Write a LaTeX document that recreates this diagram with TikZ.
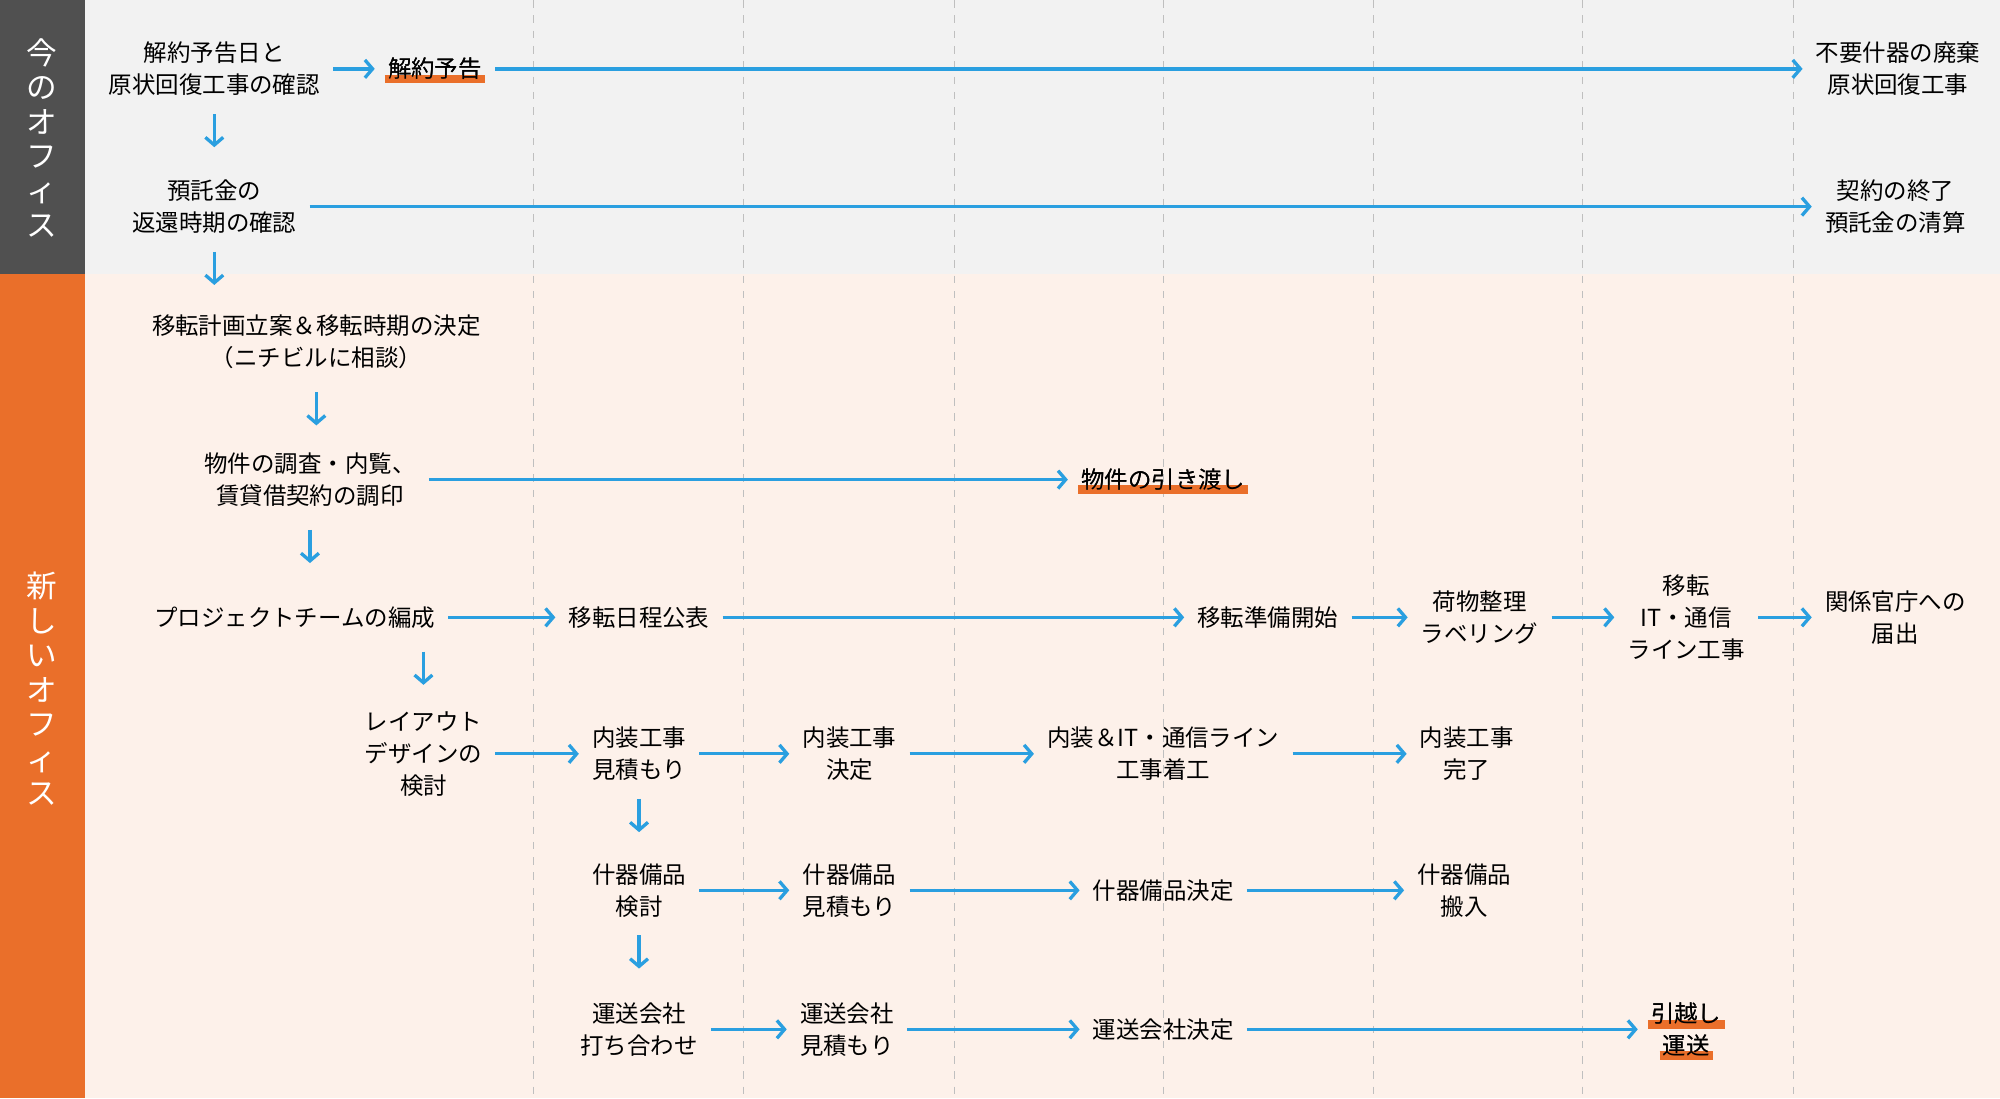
\documentclass[tikz,border=0pt]{standalone}
\usepackage{fontspec}
\setmainfont{Noto Sans CJK JP}
\usetikzlibrary{arrows.meta}
\definecolor{flowblue}{HTML}{2A9FE0}
\definecolor{bandorange}{HTML}{EA6F2A}
\definecolor{bandgray}{HTML}{505050}
\tikzset{
  step box/.style={align=center, inner sep=2pt, font=\fontsize{9.2}{12.5}\selectfont},
  arr/.style={draw=flowblue, line width=1.3pt, -{Straight Barb[length=3pt,width=7pt]}},
  uline/.style={draw=bandorange, line width=3.5pt},
  side/.style={align=center, text=white, font=\fontsize{12}{13.5}\selectfont}
}
\begin{document}
\begin{tikzpicture}[x=0.5pt, y=-0.5pt]
  % background bands
  \fill[black!5] (0,0) rectangle (1568,215);
  \fill[bandorange!10] (0,215) rectangle (1568,861);
  \fill[bandgray] (0,0) rectangle (67,215);
  \fill[bandorange] (0,215) rectangle (67,861);
  \useasboundingbox (0,0) rectangle (1568,861);
  \foreach \x in {418,583,748,912,1077,1241,1406}
    \draw[black!25, dashed] (\x,0) -- (\x,861);
  \node[side] (now) at (33,108) {今\\の\\オ\\フ\\ィ\\ス};
  \node[side] (new) at (33,540) {新\\し\\い\\オ\\フ\\ィ\\ス};

  % current office
  \node[step box] (a1) at (168,54) {解約予告日と\\原状回復工事の確認};
  \node[step box] (a2) at (341,54) {解約予告};
  \node[step box] (a3) at (1488,54) {不要什器の廃棄\\原状回復工事};
  \node[step box] (b1) at (168,162) {預託金の\\返還時期の確認};
  \node[step box] (b2) at (1486,162) {契約の終了\\預託金の清算};

  % new office
  \node[step box] (c1) at (248,268) {移転計画立案＆移転時期の決定\\（ニチビルに相談）};
  \node[step box] (d1) at (243,376) {物件の調査・内覧、\\賃貸借契約の調印};
  \node[step box] (d2) at (912,376) {物件の引き渡し};
  \node[step box] (e1) at (231,484) {プロジェクトチームの編成};
  \node[step box] (e2) at (501,484) {移転日程公表};
  \node[step box] (e3) at (994,484) {移転準備開始};
  \node[step box] (e4) at (1160,484) {荷物整理\\ラベリング};
  \node[step box] (e5) at (1322,484) {移転\\IT・通信\\ライン工事};
  \node[step box] (e6) at (1486,484) {関係官庁への\\届出};
  \node[step box] (f1) at (332,591) {レイアウト\\デザインの\\検討};
  \node[step box] (f2) at (501,591) {内装工事\\見積もり};
  \node[step box] (f3) at (666,591) {内装工事\\決定};
  \node[step box] (f4) at (912,591) {内装＆IT・通信ライン\\工事着工};
  \node[step box] (f5) at (1150,591) {内装工事\\完了};
  \node[step box] (g1) at (501,698) {什器備品\\検討};
  \node[step box] (g2) at (666,698) {什器備品\\見積もり};
  \node[step box] (g3) at (912,698) {什器備品決定};
  \node[step box] (g4) at (1148,698) {什器備品\\搬入};
  \node[step box] (h1) at (501,807) {運送会社\\打ち合わせ};
  \node[step box] (h2) at (664,807) {運送会社\\見積もり};
  \node[step box] (h3) at (912,807) {運送会社決定};
  \node[step box] (h4a) at (1322,795) {引越し};
  \node[step box] (h4b) at (1322,820) {運送};

  % underlines
  \foreach \n in {a2,d2,h4a,h4b}
    \draw[uline] ([xshift=1pt,yshift=2.5pt]\n.south west) -- ([xshift=-1pt,yshift=2.5pt]\n.south east);
  \foreach \n/\t in {a2/解約予告,d2/物件の引き渡し,h4a/引越し,h4b/運送}
    \node[step box] at (\n) {\t};

  % horizontal flow
  \foreach \s/\e in {a1/a2,a2/a3,b1/b2,d1/d2,e1/e2,e2/e3,e3/e4,e4/e5,e5/e6,
                     f1/f2,f2/f3,f3/f4,f4/f5,g1/g2,g2/g3,g3/g4,h1/h2,h2/h3,h3/h4a}
    \draw[arr, shorten <=3pt, shorten >=3pt] (\s.east) -- (\s.east -| \e.west);

  % vertical flow
  \draw[arr] ([yshift=-5pt]a1.south) -- ++(0,26);
  \draw[arr] ([yshift=-5pt]b1.south) -- ++(0,26);
  \draw[arr] ([yshift=-7pt]c1.south) -- ++(0,26);
  \draw[arr] ([yshift=-7pt]d1.south) -- ++(0,26);
  \draw[arr] ([yshift=-7pt]e1.south -| f1) -- ++(0,26);
  \draw[arr] ([yshift=-5pt]f2.south) -- ++(0,26);
  \draw[arr] ([yshift=-5pt]g1.south) -- ++(0,26);
\end{tikzpicture}
\end{document}
